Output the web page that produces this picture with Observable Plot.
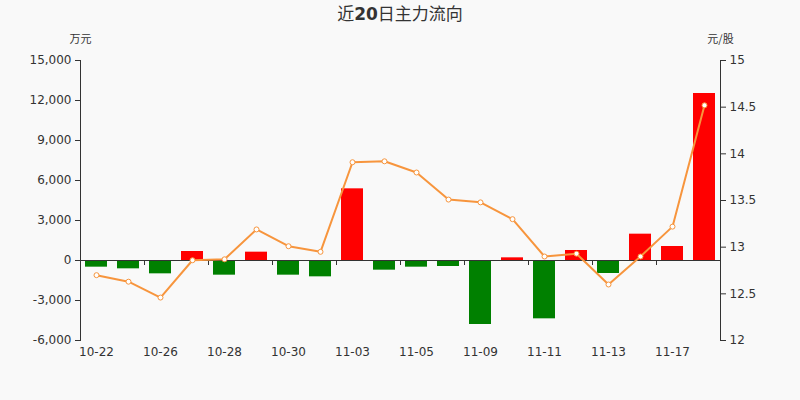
<!DOCTYPE html>
<html>
<head>
<meta charset="utf-8">
<script src="https://cdn.jsdelivr.net/npm/d3@7"></script>
<script src="https://cdn.jsdelivr.net/npm/@observablehq/plot@0.6"></script>
<style>
  html, body { margin: 0; padding: 0; background: #f9f9f9; }
  #chart { width: 800px; height: 400px; }
</style>
</head>
<body>
<div id="chart"></div>
<script>
const dates = ["10-22","10-23","10-26","10-27","10-28","10-29","10-30","11-02","11-03","11-04",
               "11-05","11-06","11-09","11-10","11-11","11-12","11-13","11-16","11-17","11-18"];
const flow = [-500,-625,-1000,675,-1100,625,-1100,-1225,5375,-725,
              -500,-450,-4800,200,-4375,750,-975,1975,1050,12525];
const price = [12.70,12.63,12.46,12.86,12.87,13.19,13.01,12.95,13.91,13.92,
               13.80,13.51,13.48,13.30,12.90,12.93,12.60,12.90,13.22,14.52];
const leftTicks = [-6000,-3000,0,3000,6000,9000,12000,15000];
const rightTicks = [12,12.5,13,13.5,14,14.5,15];
const labelDates = dates.filter((d, i) => i % 2 === 0);

const yMin = -6000, yMax = 15000, pMin = 12, pMax = 15;
const toY = p => (p - pMin) / (pMax - pMin) * (yMax - yMin) + yMin;
const toP = v => (v - yMin) / (yMax - yMin) * (pMax - pMin) + pMin;

const data = dates.map((d, i) => ({date: d, flow: flow[i], price: price[i]}));
const tickData = labelDates.slice(1).map(d => ({date: d, y1: 0, y2: -375}));
const fmtL = d => (d < 0 ? "-" : "") + d3.format(",")(Math.abs(d));
const fmtR = v => String(+toP(v).toFixed(1));
const orange = "#f7953d";

const chart = Plot.plot({
  width: 800,
  height: 400,
  marginTop: 60,
  marginBottom: 60,
  marginLeft: 80,
  marginRight: 80,
  style: {background: "#f9f9f9", fontFamily: "'DejaVu Sans', sans-serif", fontSize: "12px", color: "#333"},
  x: {type: "band", domain: dates, paddingInner: 0.3125, paddingOuter: 0.15625, axis: null, label: null},
  y: {domain: [yMin, yMax], axis: null, label: null},
  marks: [
    Plot.barY(data, {x: "date", y: "flow", fill: d => d.flow >= 0 ? "#ff0000" : "#008000"}),
    Plot.ruleY([0], {stroke: "#333"}),
    Plot.ruleX(tickData, {x: "date", y1: "y1", y2: "y2", dx: -16, stroke: "#333", strokeWidth: 1}),
    Plot.frame({anchor: "left", stroke: "#333"}),
    Plot.frame({anchor: "right", stroke: "#333"}),
    Plot.axisY({anchor: "left", label: null, ticks: leftTicks, tickSize: 5, tickPadding: 4, tickFormat: fmtL, stroke: "#333", fill: "#333"}),
    Plot.axisY({anchor: "right", label: null, ticks: rightTicks.map(toY), tickSize: 5, tickPadding: 4, tickFormat: fmtR, stroke: "#333", fill: "#333"}),
    Plot.axisX({anchor: "bottom", label: null, ticks: labelDates, tickSize: 0, tickPadding: 7, fill: "#333"}),
    Plot.line(data, {x: "date", y: d => toY(d.price), stroke: orange, strokeWidth: 2}),
    Plot.dot(data, {x: "date", y: d => toY(d.price), r: 2.5, fill: "white", stroke: orange, strokeWidth: 1}),
    Plot.text(["万元"], {frameAnchor: "top-left", lineAnchor: "middle", dy: -21, textAnchor: "middle", fill: "#333", fontSize: 11, fontFamily: "'Noto Sans CJK SC', sans-serif"}),
    Plot.text(["元/股"], {frameAnchor: "top-right", lineAnchor: "middle", dy: -21, textAnchor: "middle", fill: "#333", fontSize: 11, fontFamily: "'Noto Sans CJK SC', sans-serif"})
  ]
});

const svg = d3.select(chart);
const t = svg.append("text")
  .attr("x", 400).attr("y", 20)
  .attr("text-anchor", "middle")
  .attr("fill", "#333")
  .style("font-size", "17px")
  .style("font-family", "'Noto Sans CJK SC', sans-serif");
t.append("tspan").text("近");
t.append("tspan").attr("font-weight", "bold").style("font-family", "'DejaVu Sans', sans-serif").text("20");
t.append("tspan").text("日主力流向");

document.getElementById("chart").appendChild(chart);
</script>
</body>
</html>
